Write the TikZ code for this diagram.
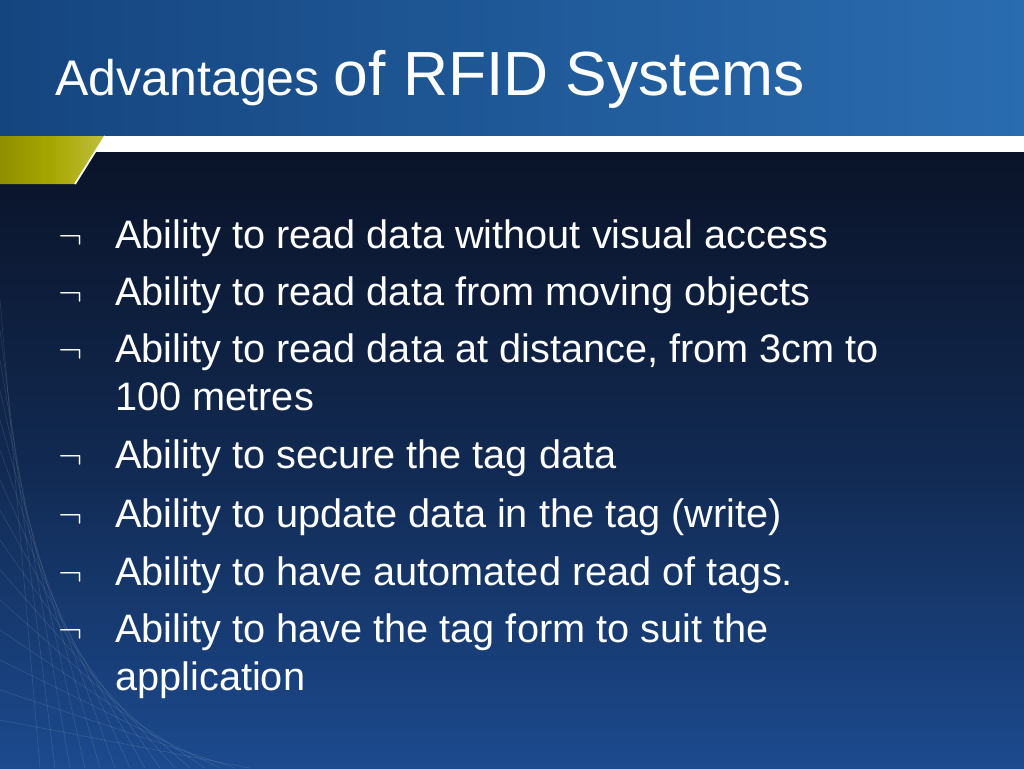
\documentclass[tikz,border=0pt]{standalone}
\usepackage{fontspec}
\setmainfont{Liberation Sans}
\definecolor{headleft}{HTML}{15457F}
\definecolor{headright}{HTML}{2A6CB0}
\definecolor{bodyleft}{HTML}{0A1328}
\definecolor{bodyright}{HTML}{1C4A8E}
\begin{document}
\begin{tikzpicture}[x=0.02cm,y=-0.02cm]
  \tikzstyle{item}=[anchor=base west,text=white,inner sep=0pt,font=\fontsize{22.6}{26}\selectfont]
  \tikzstyle{bulletmark}=[anchor=base west,text=white,inner sep=0pt,font=\fontsize{22}{26}\selectfont]
  \useasboundingbox (0,0) rectangle (1024,768);
  % background
  \shade[left color=bodyleft, right color=bodyright, middle color=bodyleft!60!bodyright, shading angle=0]
    (0,150) rectangle (1024,768);
  \foreach \i in {0,...,14}
    \draw[white,opacity=0.1] (0,{300+\i*30}) -- ({40+\i*15},768);
  % header
  \shade[left color=headleft, right color=headright] (0,0) rectangle (1024,136);
  \fill[white] (0,136) rectangle (1024,152);
  \shade[left color=olive!60!yellow!80!black, right color=olive!50!white] (0,136) -- (105,136) -- (75,184) -- (0,184) -- cycle;
  \draw[white,line width=1pt] (105,136) -- (75,184);
  % title
  \node[anchor=base west,text=white,inner sep=0pt] (title) at (55,95)
    {\fontsize{28.5}{32}\selectfont Advantages \fontsize{35.5}{40}\selectfont of RFID Systems};
  % bullets
  \foreach \y/\t [count=\n] in {
    248/Ability to read data without visual access,
    305/Ability to read data from moving objects,
    362/{Ability to read data at distance, from 3cm to},
    468/Ability to secure the tag data,
    527/Ability to update data in the tag (write),
    585/Ability to have automated read of tags.,
    642/Ability to have the tag form to suit the}
  {
    \node[bulletmark] (m\n) at (58,\y) {$\neg$};
    \node[item] (b\n) at (115,\y) {\t};
  }
  \node[item] (b3b) at (115,410) {100 metres};
  \node[item] (b7b) at (115,690) {application};
\end{tikzpicture}
\end{document}
